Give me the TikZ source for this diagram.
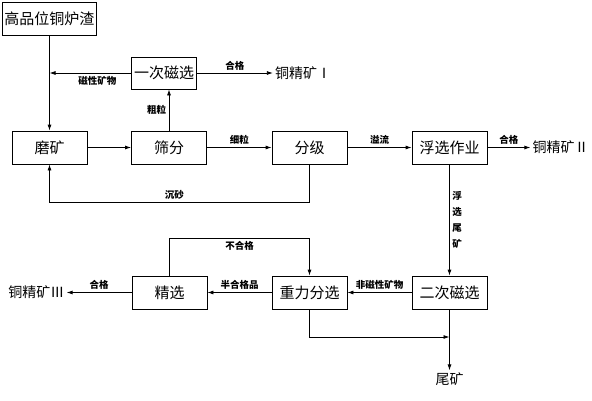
\documentclass[tikz,border=0pt]{standalone}
\usepackage{fontspec}
\newfontfamily\cjk{Noto Sans CJK SC}
\usetikzlibrary{arrows.meta, positioning}

\begin{document}
\begin{tikzpicture}[
  x=1pt, y=-1pt,
  box/.style={rectangle, draw=black, line width=0.8pt, minimum width=75pt, minimum height=33pt,
              inner sep=0pt, text centered, font=\cjk\fontsize{15}{15}\selectfont},
  product/.style={inner sep=2pt, font=\cjk\fontsize{14}{14}\selectfont},
  arrow/.style={-{Latex[length=6pt, width=4pt]}, line width=0.8pt},
  lbl/.style={font=\cjk\bfseries\fontsize{9.5}{9.5}\selectfont, inner sep=2.5pt}
]
\useasboundingbox (0,0) rectangle (592,400);

% ---- feed and first magnetic separation ----
\node[box, minimum width=94pt] (slag) at (49.5,18.5) {高品位铜炉渣};
\node[box, minimum width=65pt, minimum height=32pt] (mag1) at (164,73) {一次磁选};
\node[product, right=76pt of mag1] (conc1) {铜精矿Ⅰ};

% ---- grinding / classification row ----
\node[box] (mill)     at (49.5,147.5)  {磨矿};
\node[box] (screen)   at (169,147.5)   {筛分};
\node[box] (classify) at (309.5,147.5) {分级};
\node[box] (float)    at (449.5,147.5) {浮选作业};
\node[product, right=43pt of float] (conc2) {铜精矿Ⅱ};

% ---- second magnetic / gravity row ----
\node[box] (mag2)    at (449.5,292.5) {二次磁选};
\node[box] (gravity) at (309.5,292.5) {重力分选};
\node[box] (clean)   at (169.5,292.5) {精选};
\node[product, left=65pt of clean] (conc3) {铜精矿Ⅲ};
\node[product, below=61pt of mag2] (tail) {尾矿};
\coordinate (tailjoin) at (449.5,337);

% ---- connections ----
\draw[arrow] (slag) -- (mill);
\draw[arrow] (mag1.west) -- (mag1.west -| slag.south)
  node[lbl, midway, below, xshift=7pt] {磁性矿物};
\draw[arrow] (mag1) -- (conc1) node[lbl, midway, above] {合格};
\draw[arrow] (screen.north) -- (screen.north |- mag1.south)
  node[lbl, midway, left] {粗粒};

\draw[arrow] (mill)     -- (screen);
\draw[arrow] (screen)   -- (classify) node[lbl, midway, above] {细粒};
\draw[arrow] (classify) -- (float)    node[lbl, midway, above] {溢流};
\draw[arrow] (float)    -- (conc2)    node[lbl, midway, above] {合格};
\draw[arrow] (classify.south) -- ++(0,38) -| (mill.south)
  node[lbl, pos=0.26, above] {沉砂};

\draw[arrow] (float) -- (mag2)
  node[lbl, midway, right, align=center, font=\cjk\bfseries\fontsize{9.5}{16}\selectfont]
  {浮\\选\\尾\\矿};

\draw[arrow] (mag2)    -- (gravity) node[lbl, midway, above] {非磁性矿物};
\draw[arrow] (gravity) -- (clean)   node[lbl, midway, above] {半合格品};
\draw[arrow] (clean)   -- (conc3)   node[lbl, midway, above] {合格};
\draw[arrow] (clean.north) -- ++(0,-37) -| (gravity.north)
  node[lbl, pos=0.25, below] {不合格};

\draw[arrow] (gravity.south) |- (tailjoin);
\draw[arrow] (mag2) -- (tail);

\end{tikzpicture}
\end{document}
